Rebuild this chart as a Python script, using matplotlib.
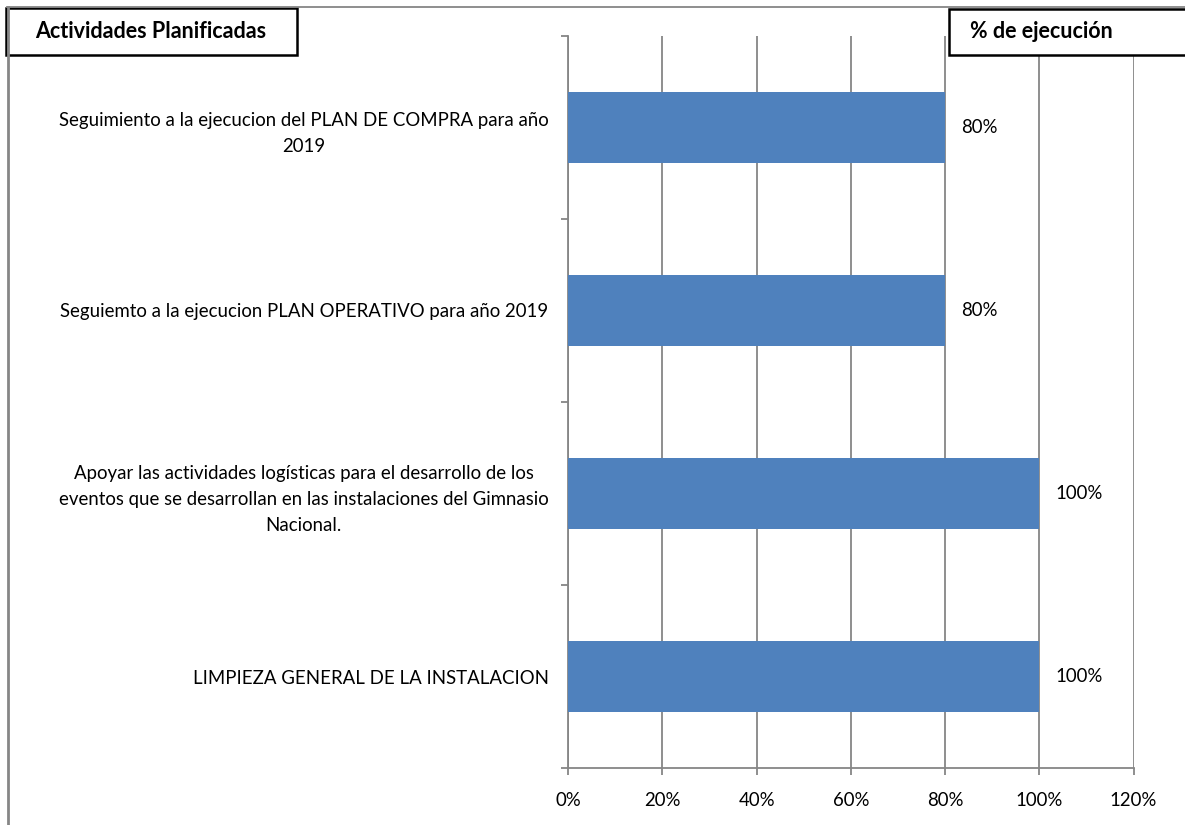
import matplotlib
matplotlib.use("Agg")
import matplotlib.pyplot as plt
from matplotlib.lines import Line2D
from matplotlib.patches import Rectangle

categories = [
    "Seguimiento a la ejecucion del PLAN DE COMPRA para año\n2019",
    "Seguiemto a la ejecucion PLAN OPERATIVO para año 2019",
    "Apoyar las actividades logísticas para el desarrollo de los\neventos que se desarrollan en las instalaciones del Gimnasio\nNacional.",
    "LIMPIEZA GENERAL DE LA INSTALACION",
]
values = [0.80, 0.80, 1.00, 1.00]
value_labels = ["80%", "80%", "100%", "100%"]
xticks = [0, 0.2, 0.4, 0.6, 0.8, 1.0, 1.2]
xtick_labels = ["0%", "20%", "40%", "60%", "80%", "100%", "120%"]
left_title = "Actividades Planificadas"
right_title = "% de ejecución"

plt.rcParams['font.family'] = ['Lato', 'DejaVu Sans']
W, H = 1185, 825
fig = plt.figure(figsize=(W / 100, H / 100), dpi=100)

def fx(px):
    return px / W

def fy(py):
    return 1 - py / H

ax = fig.add_axes([fx(568), fy(768), fx(1133.6) - fx(568), fy(36) - fy(768)])
grid_c = "#868686"
bar_c = "#4F81BD"
FS = 13.4

ypos = list(range(len(categories)))
ax.barh(ypos, values, height=0.39, color=bar_c, zorder=3)
ax.set_xlim(0, 1.2)
ax.set_ylim(len(categories) - 0.5, -0.5)
ax.set_xticks(xticks)
ax.set_xticklabels(xtick_labels, fontsize=FS)
ax.xaxis.grid(True, color=grid_c, linewidth=1.3, zorder=0)
ax.tick_params(axis='x', length=5, width=1.3, color=grid_c, pad=12)

ax.set_yticks([i - 0.5 for i in range(len(categories) + 1)])
ax.set_yticklabels([])
ax.tick_params(axis='y', which='major', length=5, width=1.3, color=grid_c)
ax.set_yticks(ypos, minor=True)
ax.set_yticklabels(categories, minor=True, fontsize=FS, multialignment='center',
                   linespacing=1.62)
ax.tick_params(axis='y', which='minor', length=0, pad=14)

for s in ['top', 'right']:
    ax.spines[s].set_visible(False)
for s in ['left', 'bottom']:
    ax.spines[s].set_color(grid_c)
    ax.spines[s].set_linewidth(1.3)

for y, v, lab in zip(ypos, values, value_labels):
    ax.annotate(lab, (v, y), xytext=(11.5, 0), textcoords='offset points',
                va='center', ha='left', fontsize=FS)

# outer frame lines
fig.add_artist(Line2D([fx(7), 1], [fy(7), fy(7)], color=grid_c, linewidth=1.3))
fig.add_artist(Line2D([fx(8), fx(8)], [fy(7), 0], color=grid_c, linewidth=2))

# title boxes
fig.add_artist(Rectangle((fx(6), fy(55)), fx(297) - fx(6), fy(8) - fy(55),
                         facecolor='white', edgecolor='black', linewidth=1.8))
fig.text(fx(35), fy(32), left_title, fontsize=15.5, fontweight='bold', va='center', ha='left')
fig.add_artist(Rectangle((fx(949), fy(55)), fx(1190) - fx(949), fy(9) - fy(55),
                         facecolor='white', edgecolor='black', linewidth=1.8, clip_on=False))
fig.text(fx(970), fy(32), right_title, fontsize=15.5, fontweight='bold', va='center', ha='left')

fig.savefig("out.png", dpi=100)
